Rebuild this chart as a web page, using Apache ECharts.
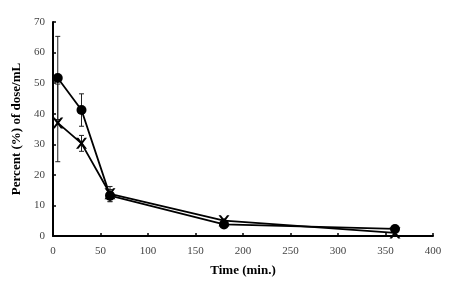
<!DOCTYPE html>
<html>
<head>
<meta charset="utf-8">
<script src="https://cdn.jsdelivr.net/npm/echarts@6/dist/echarts.min.js"></script>
<style>
  html, body { margin: 0; padding: 0; background: #fff; }
  #chart { width: 454px; height: 282px; }
</style>
</head>
<body>
<div id="chart"></div>
<script>
// time points (min.)
var times = [5, 30, 60, 180, 360];
// filled circle series: mean and SD
var circleMean = [51.7, 41.2, 13.2, 3.8, 2.3];
var circleSd = [13.6, 5.3, 2.0, 0.8, 0.5];
// cross series: mean and SD
var crossMean = [37.0, 30.3, 13.8, 5.0, 1.0];
var crossSd = [12.7, 2.6, 2.4, 0.6, 0.4];

var serif = "'Liberation Serif', 'DejaVu Serif', serif";
var crossPath = 'path://M0,0 L2.2,0 L5,3.6 L7.8,0 L10,0 L6.2,5 L10,10 L7.8,10 L5,6.4 L2.2,10 L0,10 L3.8,5 Z';

function pairs(xs, ys) {
  var out = [];
  for (var i = 0; i < xs.length; i++) out.push([xs[i], ys[i]]);
  return out;
}

function errData(mean, sd) {
  var out = [];
  for (var i = 0; i < times.length; i++) {
    out.push([times[i], mean[i] - sd[i], mean[i] + sd[i]]);
  }
  return out;
}

function renderErr(params, api) {
  var lo = api.coord([api.value(0), api.value(1)]);
  var hi = api.coord([api.value(0), api.value(2)]);
  var w = 2.5;
  var style = { stroke: '#222', lineWidth: 1, fill: null };
  return {
    type: 'group',
    children: [
      { type: 'line', shape: { x1: lo[0], y1: lo[1], x2: hi[0], y2: hi[1] }, style: style },
      { type: 'line', shape: { x1: hi[0] - w, y1: hi[1], x2: hi[0] + w, y2: hi[1] }, style: style },
      { type: 'line', shape: { x1: lo[0] - w, y1: lo[1], x2: lo[0] + w, y2: lo[1] }, style: style }
    ]
  };
}

var chart = echarts.init(document.getElementById('chart'));
chart.setOption({
  animation: false,
  backgroundColor: '#fff',
  grid: { left: 53, right: 21, top: 22, bottom: 44 },
  xAxis: {
    type: 'value',
    min: 0, max: 400, interval: 50,
    name: 'Time (min.)',
    nameLocation: 'middle',
    nameGap: 28,
    nameTextStyle: { fontFamily: serif, fontWeight: 'bold', fontSize: 13, color: '#000' },
    axisLine: { show: true, lineStyle: { color: '#000', width: 2 } },
    axisTick: { show: true, inside: true, length: 3, lineStyle: { color: '#000', width: 1.5 } },
    axisLabel: { fontFamily: serif, fontSize: 11, color: '#444', margin: 10 },
    splitLine: { show: false }
  },
  yAxis: {
    type: 'value',
    min: 0, max: 70, interval: 10,
    name: 'Percent (%) of dose/mL',
    nameLocation: 'middle',
    nameGap: 29,
    nameTextStyle: { fontFamily: serif, fontWeight: 'bold', fontSize: 13, color: '#000' },
    axisLine: { show: true, lineStyle: { color: '#000', width: 2 } },
    axisTick: { show: true, inside: true, length: 3, lineStyle: { color: '#000', width: 1.5 } },
    axisLabel: { fontFamily: serif, fontSize: 11, color: '#444', margin: 8 },
    splitLine: { show: false }
  },
  series: [
    {
      type: 'custom',
      renderItem: renderErr,
      data: errData(circleMean, circleSd),
      z: 1
    },
    {
      type: 'custom',
      renderItem: renderErr,
      data: errData(crossMean, crossSd),
      z: 1
    },
    {
      type: 'line',
      data: pairs(times, crossMean),
      symbol: crossPath,
      symbolSize: 11,
      showAllSymbol: true,
      lineStyle: { color: '#000', width: 1.8 },
      itemStyle: { color: '#000' },
      z: 3
    },
    {
      type: 'line',
      data: pairs(times, circleMean),
      symbol: 'circle',
      symbolSize: 10,
      showAllSymbol: true,
      lineStyle: { color: '#000', width: 1.8 },
      itemStyle: { color: '#000' },
      z: 4
    }
  ]
});
</script>
</body>
</html>
